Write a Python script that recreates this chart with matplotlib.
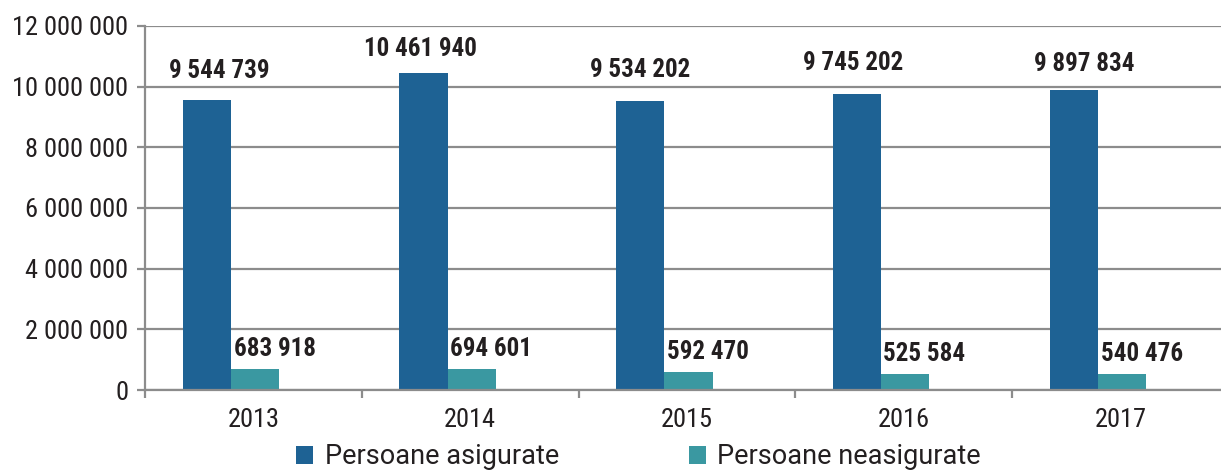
import matplotlib
matplotlib.use("Agg")
import matplotlib.pyplot as plt
from matplotlib import font_manager
from matplotlib.ticker import FuncFormatter, FixedLocator, MultipleLocator
from matplotlib.patches import Patch

# ---- data ----
years = ["2013", "2014", "2015", "2016", "2017"]
asigurate = [9544739, 10461940, 9534202, 9745202, 9897834]
neasigurate = [683918, 694601, 592470, 525584, 540476]
series_names = ["Persoane asigurate", "Persoane neasigurate"]
colors = ["#1e6294", "#3a98a1"]

# label placement (pixels, relative to bar top centre) - style only
blue_dx = [12.5, -3, 0, -3.5, 10]
blue_dy = [17, 12, 18.5, 19, 13.5]
teal_dx = [20, 19, 19, 19, 20]
teal_dy = [8, 8, 8, 8, 8]

def find_font(fname_part, fallback):
    for f in font_manager.fontManager.ttflist:
        if f.fname.endswith(fname_part):
            return font_manager.FontProperties(fname=f.fname)
    return font_manager.FontProperties(family=fallback)

cond_reg = find_font("RobotoCondensed-Regular.ttf", "Roboto")
cond_bold = find_font("RobotoCondensed-Bold.ttf", "Roboto")
rob_reg = find_font("Roboto-Regular.ttf", "Roboto")

def fp(base, size):
    p = base.copy()
    p.set_size(size)
    return p

W, H, DPI = 1221, 470, 100
fig = plt.figure(figsize=(W / DPI, H / DPI), dpi=DPI)
left_px, right_px, top_px, bottom_px = 145, 145 + 5 * 216.8, 26, 390
ax = fig.add_axes([left_px / W, 1 - bottom_px / H,
                   (right_px - left_px) / W, (bottom_px - top_px) / H])

grid_c = "#8c8c8c"
text_c = "#231f20"
w = 0.2225
xs = range(len(years))
xb = [i - w + 0.007 for i in xs]
xt = [i + 0.007 for i in xs]
ax.bar(xb, asigurate, width=w, color=colors[0], zorder=3)
ax.bar(xt, neasigurate, width=w, color=colors[1], zorder=3)

def fmt(v):
    return f"{int(v):,}".replace(",", " ")

for x, v, dx, dy in zip(xb, asigurate, blue_dx, blue_dy):
    ax.annotate(fmt(v), (x, v), xytext=(dx, dy), textcoords="offset pixels",
                ha="center", va="bottom", fontproperties=fp(cond_bold, 18),
                color=text_c, zorder=4)
for x, v, dx, dy in zip(xt, neasigurate, teal_dx, teal_dy):
    ax.annotate(fmt(v), (x, v), xytext=(dx, dy), textcoords="offset pixels",
                ha="center", va="bottom", fontproperties=fp(cond_bold, 18),
                color=text_c, zorder=4)

ax.set_xlim(-0.5, len(years) - 0.5)
ax.set_ylim(0, 12000000)
ax.yaxis.set_major_locator(MultipleLocator(2000000))
ax.yaxis.set_major_formatter(FuncFormatter(lambda v, p: fmt(v)))
ax.grid(axis="y", color=grid_c, linewidth=1.6, zorder=0)
ax.set_axisbelow(True)

ax.set_xticks(list(xs))
ax.set_xticklabels(years)
ax.xaxis.set_minor_locator(FixedLocator([i - 0.5 for i in range(len(years) + 1)]))
ax.tick_params(axis="x", which="major", length=0, pad=13)
ax.tick_params(axis="x", which="minor", length=6, width=1.6, color=grid_c)
ax.tick_params(axis="y", length=6, width=1.6, color=grid_c, pad=6)
for lab in ax.get_xticklabels() + ax.get_yticklabels():
    lab.set_fontproperties(fp(cond_reg, 19))
    lab.set_color(text_c)

for s in ["top", "right"]:
    ax.spines[s].set_visible(False)
for s in ["left", "bottom"]:
    ax.spines[s].set_color(grid_c)
    ax.spines[s].set_linewidth(1.6)
ax.spines["bottom"].set_zorder(5)

handles = [Patch(facecolor=colors[0]), Patch(facecolor=colors[1])]
fig.legend(handles, series_names, loc="center",
           bbox_to_anchor=(638.5 / W, 1 - 457 / H), ncol=2, frameon=False,
           prop=fp(rob_reg, 19.5), handlelength=0.64, handleheight=0.64,
           handletextpad=0.41, columnspacing=4.8, borderpad=0, labelcolor=text_c)

fig.savefig("out.png", dpi=DPI)
